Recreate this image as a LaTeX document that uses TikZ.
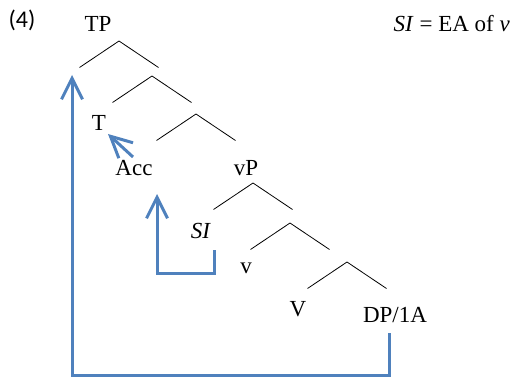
\documentclass[tikz,border=0pt]{standalone}
\usepackage{fontspec}
\setmainfont{Liberation Serif}
\newfontfamily\numfont{Carlito}
\usetikzlibrary{arrows.meta, calc}
\definecolor{moveblue}{RGB}{79,129,189}

\begin{document}
\begin{tikzpicture}[x=1pt, y=-1pt, >={Straight Barb[length=21pt,width=21pt]}]
% Styles for labels, branches and movement arrows
\tikzset{lbl/.style={anchor=base, inner sep=0pt, font=\fontsize{23}{27}\selectfont},
         branch/.style={black, line width=0.8pt},
         move/.style={->, line width=3pt, moveblue}}

\useasboundingbox (0,0) rectangle (511,377);

% --- LABELS ---
\node[anchor=base, inner sep=0pt, font=\numfont\fontsize{24}{28}\selectfont] (ex) at (22,28) {(4)};
\node[lbl] (tp) at (98,32) {TP};
\node[lbl, anchor=base east] (note) at (510,32) {\textit{SI} = EA of \textit{v}};
\node[lbl] (t) at (99,131) {T};
\node[lbl] (acc) at (134,175) {Acc};
\node[lbl] (vp) at (246,175) {vP};
\node[lbl] (si) at (201,238) {\textit{SI}};
\node[lbl] (lv) at (246,273) {v};
\node[lbl] (bv) at (298,316) {V};
\node[lbl] (dp) at (395,322) {DP/1A};

% --- BRANCHES ---
\foreach \i/\ax/\ay in {1/119/41, 2/152/76, 3/196/114, 4/253/183, 5/290/223, 6/347/262} {
    \coordinate (a\i) at (\ax,\ay);
    \draw[branch] ($(a\i)+(-39.5,26.5)$) -- (a\i) -- ($(a\i)+(39.5,26.5)$);
}

% --- MOVEMENT ---
\coordinate (dpfoot) at (389,333);
\coordinate (sifoot) at (214,250);
\coordinate (tpland) at (72,75);
\coordinate (accland) at (157,194);
\coordinate (acctail) at (133,157);
\coordinate (tland) at (108,134);

\draw[move] (dpfoot) |- (72,375) -- (tpland);
\draw[move] (sifoot) |- (157,273) -- (accland);
\draw[move] (acctail) -- (tland);

\end{tikzpicture}
\end{document}
